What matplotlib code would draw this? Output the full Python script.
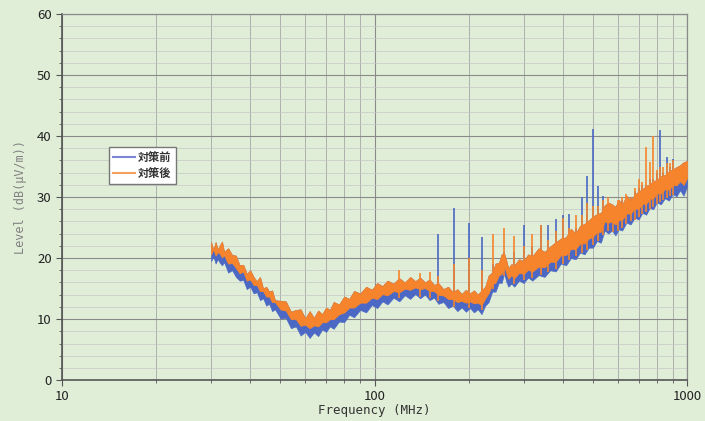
import matplotlib
matplotlib.use("Agg")
import matplotlib.pyplot as plt
from matplotlib.ticker import MultipleLocator, FixedLocator, NullFormatter

plt.rcParams['font.family'] = ['Noto Sans CJK JP', 'DejaVu Sans']

# 周波数 (MHz)
freq = [30, 30.5, 31, 31.5, 32, 32.5, 33, 34, 35, 36, 37, 38, 39, 40, 41, 42, 43, 44, 45, 46,
        47, 48, 50, 52, 54, 56, 58, 60, 62, 64, 66, 68, 70, 72, 74, 77, 80, 83, 86, 90,
        94, 98, 102, 106, 110, 115, 120, 125, 130, 135, 140, 145, 150, 155, 160, 166, 172, 178, 184, 190,
        196, 202, 208, 214, 220, 226, 232, 238, 244, 250, 255, 260, 264, 268, 274, 280, 290, 300, 310, 320,
        335, 350, 365, 380, 395, 410, 425, 440, 455, 470, 485, 500, 515, 530, 545, 560, 575, 590, 605, 620,
        640, 660, 680, 700, 720, 740, 760, 780, 800, 825, 850, 875, 900, 925, 950, 975, 1000]

# 対策後 上側 (dB(uV/m))
after_hi = [22.6, 21.3, 22.6, 21.4, 22.1, 22.7, 21.0, 21.6, 20.5, 20.4, 18.8, 18.9, 17.4, 18.0, 16.9, 16.2, 16.9, 15.0, 15.3, 14.5,
            14.7, 13.1, 13.0, 12.9, 11.2, 11.5, 11.6, 10.1, 11.3, 10.2, 11.4, 10.8, 11.9, 11.5, 12.8, 12.4, 13.7, 13.3, 14.6, 14.2,
            15.3, 14.8, 15.9, 15.4, 16.3, 15.8, 16.7, 16.0, 16.9, 16.2, 16.8, 16.0, 16.5, 15.6, 15.9, 14.9, 15.3, 14.4, 14.9, 14.1,
            14.8, 14.2, 14.7, 14.0, 14.7, 15.3, 17.2, 17.6, 19.1, 19.2, 20.6, 20.7, 19.6, 18.3, 19.0, 18.8, 19.8, 19.5, 20.6, 20.3,
            21.6, 21.0, 21.9, 22.6, 23.2, 23.4, 24.8, 24.0, 25.3, 25.6, 26.2, 26.8, 27.2, 27.4, 28.6, 29.1, 28.8, 28.4, 29.5, 28.7,
            30.2, 29.4, 30.4, 30.9, 31.3, 31.8, 32.1, 32.6, 32.8, 33.4, 33.6, 34.2, 34.5, 34.9, 35.2, 35.7, 35.9]
# 対策後 下側
after_lo = [20.6, 21.5, 20.4, 21.0, 20.7, 20.1, 20.5, 19.1, 19.2, 18.4, 17.5, 17.8, 16.3, 16.5, 15.6, 15.6, 14.6, 14.6, 13.7, 13.7,
            12.8, 12.8, 11.6, 11.4, 10.0, 10.0, 8.9, 9.1, 8.5, 9.0, 8.8, 9.5, 9.5, 10.0, 10.0, 10.8, 11.1, 11.9, 11.9, 12.7,
            12.7, 13.5, 13.3, 14.1, 13.9, 14.6, 14.4, 15.0, 14.8, 15.2, 14.9, 15.1, 14.6, 14.6, 14.0, 13.9, 13.3, 13.3, 12.8, 13.0,
            12.7, 12.9, 12.6, 12.7, 12.3, 13.4, 14.3, 15.7, 16.0, 17.2, 17.4, 18.6, 17.6, 16.6, 17.2, 16.7, 17.6, 17.4, 18.1, 17.8,
            18.6, 18.5, 19.4, 19.4, 20.5, 20.5, 21.5, 21.5, 22.4, 22.4, 23.2, 23.5, 24.3, 24.3, 26.0, 25.8, 26.0, 25.5, 26.2, 26.3,
            27.3, 27.3, 28.1, 28.1, 28.9, 28.9, 29.7, 29.8, 30.6, 30.6, 31.3, 31.2, 32.0, 31.9, 32.6, 32.0, 33.1]
# 対策前 下側
before_lo = [19.5, 20.2, 19.1, 19.8, 19.2, 18.8, 19.3, 17.6, 18.0, 16.9, 16.3, 16.4, 14.9, 15.3, 14.2, 14.4, 13.1, 13.4, 12.2, 12.5,
             11.3, 11.6, 10.1, 10.2, 8.5, 8.8, 7.3, 7.9, 6.9, 7.8, 7.2, 8.3, 7.9, 8.8, 8.4, 9.6, 9.5, 10.7, 10.3, 11.5,
             11.1, 12.3, 11.8, 12.9, 12.4, 13.5, 12.9, 13.9, 13.3, 14.1, 13.4, 14.0, 13.1, 13.5, 12.5, 12.8, 11.8, 12.2, 11.3, 11.9,
             11.2, 11.8, 11.1, 11.6, 10.8, 12.2, 12.8, 14.5, 14.5, 16.0, 15.9, 17.4, 16.1, 15.3, 15.8, 15.3, 16.3, 15.9, 16.8, 16.3,
             17.2, 16.9, 18.0, 17.8, 19.1, 18.8, 20.0, 19.8, 20.9, 20.6, 21.7, 21.7, 22.8, 22.5, 24.5, 24.0, 24.5, 23.7, 24.7, 24.5,
             25.8, 25.5, 26.6, 26.3, 27.4, 27.1, 28.2, 28.0, 29.1, 28.8, 29.8, 29.4, 30.5, 30.1, 31.1, 30.2, 31.7]

# 高調波スパイク
spike_freq = [120, 140, 150, 160, 180, 200, 220, 240, 260, 280, 300, 320, 340, 360, 380, 400, 420, 440, 460, 480, 500,
              520, 540, 560, 580, 600, 620, 640, 660, 680, 700, 720, 740, 760, 780, 800, 820, 840, 860, 880, 900]
spike_base = [13.5, 13.7, 13.5, 13.0, 12.0, 11.8, 11.5, 15.0, 17.0, 15.8, 16.4, 16.8, 17.2, 17.7, 18.2, 19.0, 19.7, 20.3, 20.8, 21.4, 22.2,
              22.8, 23.8, 24.4, 24.3, 24.5, 25.0, 25.5, 26.0, 26.3, 26.8, 27.2, 27.6, 28.0, 28.4, 28.8, 29.2, 29.5, 29.8, 30.1, 30.3]
before_peak = [15.5, 15.5, 16.0, 24.0, 28.2, 25.7, 23.4, 19.0, 21.0, 21.0, 25.4, 22.0, 25.4, 25.4, 26.4, 27.0, 27.2, 25.0, 30.0, 33.5, 41.2,
               31.8, 30.2, 28.0, 28.5, 28.5, 29.5, 30.0, 30.0, 31.0, 31.5, 32.0, 32.0, 33.0, 33.0, 34.0, 41.0, 34.0, 36.6, 35.0, 36.3]
after_peak = [18.0, 17.6, 17.8, 17.0, 19.0, 20.0, 18.0, 24.0, 25.0, 23.6, 22.0, 24.0, 25.4, 23.0, 24.5, 26.5, 25.0, 27.0, 27.0, 29.0, 28.5,
              28.5, 29.5, 30.0, 28.5, 29.5, 30.0, 30.5, 30.0, 31.5, 33.0, 32.5, 38.2, 35.8, 40.0, 34.5, 35.0, 35.0, 35.5, 35.5, 36.0]

blue = '#4a68c4'
orange = '#f5842c'
bg = '#e0eed8'

fig = plt.figure(figsize=(7.05, 4.21), dpi=100, facecolor=bg)
ax = fig.add_axes([0.088, 0.097, 0.8865, 0.870])
ax.set_facecolor(bg)

ax.vlines(spike_freq, spike_base, before_peak, color=blue, lw=1.2, zorder=2)
ax.fill_between(freq, before_lo, after_hi, color=blue, lw=0.4, edgecolor=blue, zorder=3)
ax.vlines(spike_freq, spike_base, after_peak, color=orange, lw=1.2, zorder=3.5)
ax.fill_between(freq, after_lo, after_hi, color=orange, lw=0.6, edgecolor=orange, zorder=4)

# 凡例用
ax.plot([], [], color='#7f86d4', lw=1.5, label='対策前')
ax.plot([], [], color='#f5a060', lw=1.5, label='対策後')

ax.set_xscale('log')
ax.set_xlim(10, 1000)
ax.set_ylim(0, 60)
ax.yaxis.set_major_locator(MultipleLocator(10))
ax.yaxis.set_minor_locator(MultipleLocator(2))
ax.xaxis.set_major_locator(FixedLocator([10, 100, 1000]))
ax.set_xticklabels(['10', '100', '1000'])
ax.xaxis.set_minor_formatter(NullFormatter())

ax.grid(which='major', color='#8a8a8a', lw=0.8, zorder=0)
ax.grid(which='minor', axis='x', color='#a6a6a6', lw=0.6, zorder=0)
ax.grid(which='minor', axis='y', color='#c6c8c6', lw=0.5, zorder=0)
ax.set_axisbelow(True)

for s in ['left', 'bottom']:
    ax.spines[s].set_color('#555555')
    ax.spines[s].set_linewidth(1.2)
for s in ['top', 'right']:
    ax.spines[s].set_color('#8a8a8a')
    ax.spines[s].set_linewidth(0.9)

ax.tick_params(which='both', direction='out', colors='#555555', labelcolor='#222222', labelsize=9.5)
ax.tick_params(which='major', length=4)
ax.tick_params(which='minor', length=2)
ax.tick_params(axis='x', pad=3)

ax.set_xlabel('Frequency (MHz)', fontsize=9, color='#333333', labelpad=1,
              family=['DejaVu Sans Mono'])
ax.set_ylabel('Level (dB(μV/m))', fontsize=8.5, color='#808080', labelpad=7,
              family=['DejaVu Sans Mono'])

leg = ax.legend(loc='upper left', bbox_to_anchor=(0.066, 0.652), fontsize=8, frameon=True,
                fancybox=False, edgecolor='#777777', facecolor='white', framealpha=1,
                handlelength=2.0, handletextpad=0.3, borderpad=0.35, labelspacing=0.3)
leg.get_frame().set_linewidth(1.0)
for t in leg.get_texts():
    t.set_fontweight('bold')
    t.set_color('#333333')

fig.savefig('out.png', dpi=100, facecolor=bg)
